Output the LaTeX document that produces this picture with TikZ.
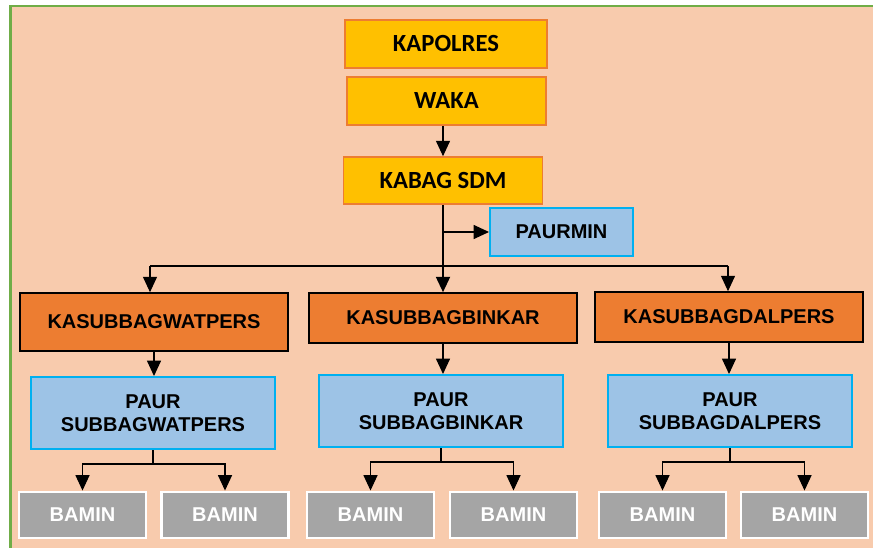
\documentclass[tikz,border=0pt]{standalone}
\usepackage{fontspec}
\setmainfont{Liberation Sans}
\newfontfamily\calibrifont{Carlito}
\usetikzlibrary{arrows.meta}

\definecolor{peach}{RGB}{248,203,173}
\definecolor{framegreen}{RGB}{112,173,71}
\definecolor{gold}{RGB}{255,192,0}
\definecolor{burnt}{RGB}{237,125,49}
\definecolor{skyfill}{RGB}{157,195,230}
\definecolor{cyanline}{RGB}{0,176,240}
\definecolor{greybox}{RGB}{165,165,165}

\begin{document}
\begin{tikzpicture}[x=0.75pt,y=0.75pt,yscale=-1,xscale=1,
  headbox/.style={draw=burnt,fill=gold,line width=1.2pt,inner sep=0pt,
    minimum width=149.25pt,minimum height=36pt,
    font=\calibrifont\fontsize{18.5}{21}\selectfont\bfseries},
  subbox/.style={draw=black,fill=burnt,line width=1.2pt,inner sep=0pt,
    minimum width=201pt,minimum height=37.5pt,
    font=\fontsize{15}{17.25}\selectfont\bfseries},
  paurbox/.style={draw=cyanline,fill=skyfill,line width=1.5pt,inner sep=0pt,
    minimum width=183pt,minimum height=54pt,align=center,
    font=\fontsize{15}{17.25}\selectfont\bfseries},
  baminbox/.style={draw=white,fill=greybox,line width=2.2pt,inner sep=0pt,
    minimum width=95.25pt,minimum height=34.5pt,text=white,
    font=\fontsize{15}{17.25}\selectfont\bfseries},
  arr/.style={-{Triangle[length=11.5pt,width=10.5pt]},line width=0.8pt},
  trunk/.style={line width=1.4pt}
]
\useasboundingbox (0,0) rectangle (873,548);

%Shape: Frame
\fill [white] (0,0) rectangle (873,548);
\begin{scope}
\clip (0,0) rectangle (873,548);
\draw [draw=framegreen,fill=peach,line width=1.6pt] (10.5,6.3) rectangle (890,560);
\end{scope}

%Shape: Rectangle (top)
\node [headbox,minimum width=151.5pt] (kapolres) at (446,44) {KAPOLRES};
\node [headbox] (waka) at (446.5,101) {WAKA};
\node [headbox,minimum height=35.25pt] (kabag) at (443,180.5) {KABAG SDM};
\node [paurbox,minimum width=107.25pt,minimum height=36pt] (paurmin) at (561.5,232) {PAURMIN};

%Shape: Rectangle (subbag)
\node [subbox,minimum height=43.5pt] (kasubwat) at (154,322) {KASUBBAGWATPERS};
\node [subbox] (kasubbin) at (443,318) {KASUBBAGBINKAR};
\node [subbox] (kasubdal) at (729,317) {KASUBBAGDALPERS};

\node [paurbox] (paurwat) at (153,413) {PAUR\\SUBBAGWATPERS};
\node [paurbox] (paurbin) at (441,411) {PAUR\\SUBBAGBINKAR};
\node [paurbox] (paurdal) at (730,411) {PAUR\\SUBBAGDALPERS};

%Shape: Rectangle (bamin)
\node [baminbox] (baminwat1) at (82.5,515) {BAMIN};
\node [baminbox] (baminwat2) at (225,515) {BAMIN};
\node [baminbox] (baminbin1) at (370.5,515) {BAMIN};
\node [baminbox] (baminbin2) at (513.5,515) {BAMIN};
\node [baminbox] (bamindal1) at (662.5,515) {BAMIN};
\node [baminbox] (bamindal2) at (804.5,515) {BAMIN};

%Straight Lines
\draw [arr] (kabag.north |- waka.south) -- (kabag.north);
\coordinate (bus) at (0,266);
\draw [trunk,-{Triangle[length=11.5pt,width=10.5pt]}] (kabag.south) -- (kabag.south |- kasubbin.north);
\draw [arr] (kabag.south |- paurmin.west) -- (paurmin.west);
\draw [trunk] (150,0 |- bus) -- (728,0 |- bus);
\draw [arr] (150,0 |- bus) -- (150,0 |- kasubwat.north);
\draw [arr] (728,0 |- bus) -- (728,0 |- kasubdal.north);

\foreach \g in {wat,bin,dal}{
  \draw [arr] (kasub\g.south) -- (kasub\g.south |- paur\g.north);
  \draw [line width=1pt] (paur\g.south) -- ++(0,14) coordinate (fork\g);
  \draw [arr] (fork\g) -| (bamin\g1.north);
  \draw [arr] (fork\g) -| (bamin\g2.north);
}

\end{tikzpicture}
\end{document}
